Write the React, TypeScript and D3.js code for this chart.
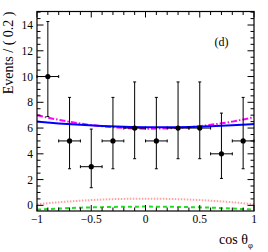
import React from "react";
import * as d3 from "d3";

const binCenters = [-0.9, -0.7, -0.5, -0.3, -0.1, 0.1, 0.3, 0.5, 0.7, 0.9];
const counts = [10, 5, 3, 5, 6, 5, 6, 6, 4, 5];
const errLow = [3.11, 2.16, 1.63, 2.16, 2.38, 2.16, 2.38, 2.38, 1.91, 2.16];
const errHigh = [4.27, 3.38, 2.92, 3.38, 3.58, 3.38, 3.58, 3.58, 3.16, 3.38];

const curveX = [-1, -0.8, -0.6, -0.4, -0.2, 0, 0.2, 0.4, 0.6, 0.8, 1];
const totalCurve = [6.5, 6.36, 6.25, 6.16, 6.1, 6.07, 6.07, 6.09, 6.14, 6.21, 6.31];
const altCurve = [7.0, 6.64, 6.35, 6.14, 6.01, 5.95, 5.98, 6.07, 6.25, 6.5, 6.84];
const redCurve = [0.08, 0.24, 0.36, 0.45, 0.5, 0.52, 0.5, 0.45, 0.36, 0.24, 0.08];
const greenCurve = [-0.33, -0.25, -0.18, -0.14, -0.11, -0.1, -0.11, -0.14, -0.18, -0.25, -0.33];

const xTicks = [-1, -0.5, 0, 0.5, 1];
const xTickLabels = ["\u22121", "\u22120.5", "0", "0.5", "1"];
const yTicks = [0, 2, 4, 6, 8, 10, 12, 14];

const W = 268, H = 252;
const L = 37, R = 254, T = 11.5, B = 211;
const FONT = "'Liberation Serif', 'DejaVu Serif', serif";

export default function App() {
  const x = d3.scaleLinear().domain([-1, 1]).range([L, R]);
  const y = d3.scaleLinear().domain([-0.44, 15.05]).range([B, T]);

  const line = (vals: number[]) =>
    d3.line<number>()
      .x((_, i) => x(curveX[i]))
      .y((v) => y(v))
      .curve(d3.curveMonotoneX)(vals) || "";

  const xMinor = d3.range(-10, 11).map((i) => i / 10);
  const yMinor = d3.range(0, 31).map((i) => i * 0.5).filter((v) => v <= 15.05);

  return (
    <svg width={W} height={H} style={{ position: "absolute", left: 0, top: 0, background: "#fff" }}>
      <rect x={0} y={0} width={W} height={H} fill="#fff" />
      <defs>
        <clipPath id="frame">
          <rect x={L} y={T} width={R - L} height={B - T} />
        </clipPath>
      </defs>
      <g clipPath="url(#frame)">
        <path d={line(redCurve)} fill="none" stroke="#ff9090" strokeWidth={2} strokeDasharray="1.5,1.5" opacity={0.85} />
        <path d={line(greenCurve)} fill="none" stroke="#22dd22" strokeWidth={2} strokeDasharray="4,3" />
        <path d={line(altCurve)} fill="none" stroke="#ff00ff" strokeWidth={2} strokeDasharray="6,2,1.5,2" />
        <path d={line(totalCurve)} fill="none" stroke="#0000ff" strokeWidth={2} />
      </g>
      {binCenters.map((c, i) => {
        const cx = x(c);
        const cy = y(counts[i]);
        const yl = y(counts[i] - errLow[i]);
        const yh = y(counts[i] + errHigh[i]);
        const x0 = x(c - 0.1), x1 = x(c + 0.1);
        return (
          <g key={i} stroke="#000" strokeWidth={1}>
            <line x1={cx} x2={cx} y1={yl} y2={yh} />
            <line x1={x0} x2={x1} y1={cy} y2={cy} />
            <line x1={cx - 1.5} x2={cx + 1.5} y1={yl} y2={yl} />
            <line x1={cx - 1.5} x2={cx + 1.5} y1={yh} y2={yh} />
            <line x1={x0} x2={x0} y1={cy - 1.5} y2={cy + 1.5} />
            <line x1={x1} x2={x1} y1={cy - 1.5} y2={cy + 1.5} />
            <circle cx={cx} cy={cy} r={2.6} fill="#000" stroke="none" />
          </g>
        );
      })}
      <rect x={L} y={T} width={R - L} height={B - T} fill="none" stroke="#000" strokeWidth={1.2} />
      <g stroke="#000" strokeWidth={1}>
        {xMinor.map((v, i) => {
          const major = xTicks.some((t) => Math.abs(t - v) < 1e-6);
          const len = major ? 6 : 3.5;
          return (
            <g key={"xt" + i}>
              <line x1={x(v)} x2={x(v)} y1={B} y2={B - len} />
              <line x1={x(v)} x2={x(v)} y1={T} y2={T + len} />
            </g>
          );
        })}
        {yMinor.map((v, i) => {
          const major = yTicks.some((t) => Math.abs(t - v) < 1e-6);
          const len = major ? 6.5 : 3.5;
          return (
            <g key={"yt" + i}>
              <line x1={L} x2={L + len} y1={y(v)} y2={y(v)} />
              <line x1={R} x2={R - len} y1={y(v)} y2={y(v)} />
            </g>
          );
        })}
      </g>
      <g fontFamily={FONT} fontSize={11.5} fill="#000">
        {xTicks.map((t, i) => (
          <text key={"xl" + i} x={x(t)} y={223} textAnchor="middle">{xTickLabels[i]}</text>
        ))}
        {yTicks.map((t) => (
          <text key={"yl" + t} x={33} y={y(t) + 4} textAnchor="end">{t}</text>
        ))}
      </g>
      <text fontFamily={FONT} fontSize={14} transform={`translate(12.5, ${T}) rotate(-90)`} textAnchor="end">
        Events / ( 0.2 )
      </text>
      <text fontFamily={FONT} fontSize={14} x={219} y={243.5}>
        cos θ<tspan fontSize={8.5} dy={4}>φ</tspan>
      </text>
      <text fontFamily={FONT} fontSize={12} x={221.5} y={45.5} textAnchor="middle">(d)</text>
    </svg>
  );
}
